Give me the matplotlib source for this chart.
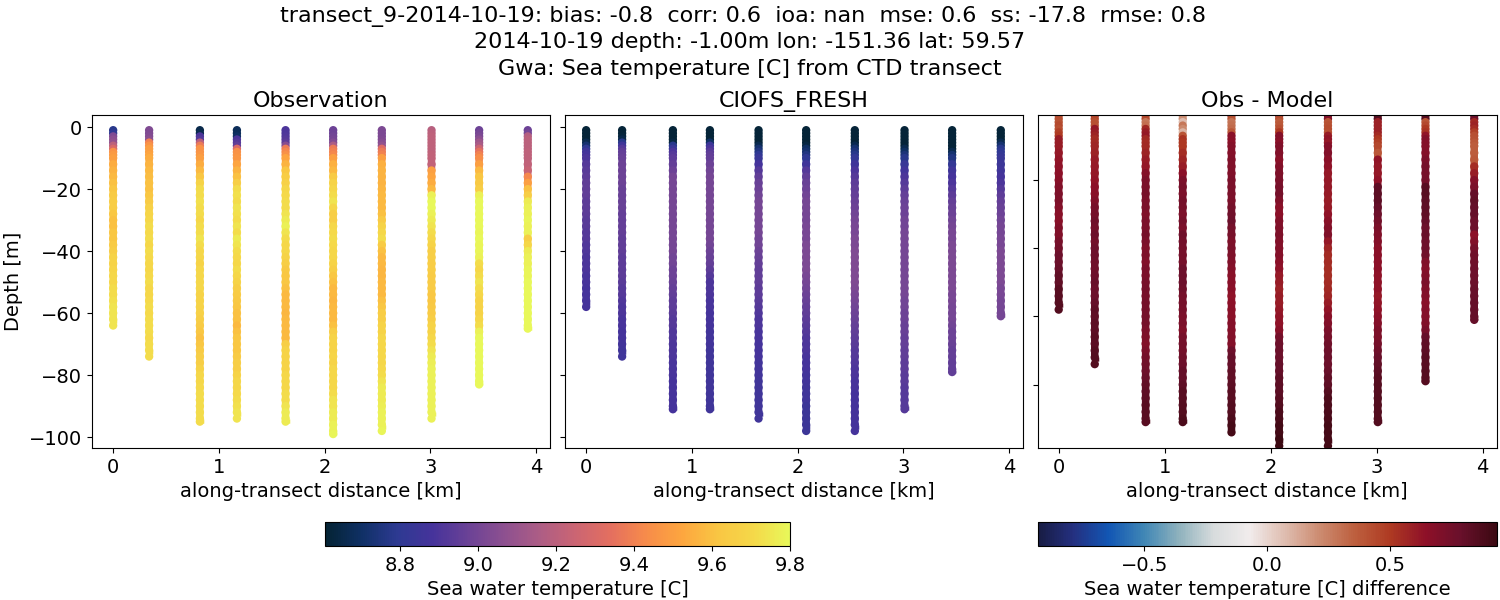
import matplotlib
matplotlib.use('Agg')
import matplotlib.pyplot as plt
from matplotlib.cm import ScalarMappable
from matplotlib.colors import LinearSegmentedColormap, Normalize
from matplotlib.path import Path

plt.rcParams['font.size'] = 14

TITLE_LINES = ['transect_9-2014-10-19: bias: -0.8  corr: 0.6  ioa: nan  mse: 0.6  ss: -17.8  rmse: 0.8',
               '2014-10-19 depth: -1.00m lon: -151.36 lat: 59.57',
               'Gwa: Sea temperature [C] from CTD transect']

# station positions along the transect [km]
distance = [0.0, 0.34, 0.82, 1.17, 1.63, 2.08, 2.54, 3.01, 3.46, 3.92]

# depth levels [m], every cast stops at its own bottom
levels = [1, 2, 3, 4, 5, 6, 7, 8, 9, 10,
          12, 14, 16, 18, 20, 22, 24, 26, 28, 30,
          32, 34, 36, 38, 40, 42, 44, 46, 48, 50,
          52, 54, 56, 58, 60, 62, 64, 66, 68, 70,
          72, 74, 76, 78, 80, 82, 84, 86, 88, 90,
          92, 94, 96, 98]
obs_bottom = [64, 74, 95, 94, 95, 99, 98, 94, 83, 65]
model_bottom = [58, 74, 91, 91, 94, 98, 98, 91, 79, 61]

obs_temp = [
    [8.78, 8.80, 9.03, 9.06, 9.08, 9.20, 9.30, 9.46, 9.48, 9.50,
     9.54, 9.56, 9.58, 9.60, 9.62, 9.64, 9.65, 9.65, 9.62, 9.60,
     9.60, 9.62, 9.62, 9.64, 9.66, 9.68, 9.68, 9.69, 9.70, 9.70,
     9.72, 9.72, 9.73, 9.74, 9.74, 9.74, 9.74],
    [9.03, 9.03, 9.04, 9.06, 9.40, 9.46, 9.50, 9.50, 9.52, 9.54,
     9.56, 9.58, 9.59, 9.60, 9.60, 9.62, 9.64, 9.67, 9.69, 9.70,
     9.72, 9.71, 9.72, 9.70, 9.72, 9.71, 9.70, 9.70, 9.71, 9.72,
     9.70, 9.70, 9.71, 9.72, 9.71, 9.72, 9.72, 9.72, 9.71, 9.72,
     9.72, 9.72],
    [8.65, 8.66, 8.90, 8.92, 9.20, 9.38, 9.46, 9.46, 9.47, 9.50,
     9.54, 9.58, 9.62, 9.68, 9.72, 9.72, 9.73, 9.72, 9.72, 9.70,
     9.72, 9.72, 9.74, 9.72, 9.70, 9.70, 9.68, 9.70, 9.70, 9.70,
     9.70, 9.68, 9.68, 9.68, 9.67, 9.66, 9.64, 9.62, 9.60, 9.62,
     9.64, 9.66, 9.66, 9.68, 9.70, 9.70, 9.71, 9.72, 9.72, 9.72,
     9.72, 9.72, 9.72],
    [8.68, 8.68, 8.70, 8.90, 8.92, 8.95, 9.30, 9.45, 9.46, 9.47,
     9.52, 9.56, 9.60, 9.66, 9.72, 9.73, 9.72, 9.74, 9.73, 9.72,
     9.74, 9.72, 9.76, 9.74, 9.72, 9.71, 9.70, 9.72, 9.70, 9.68,
     9.66, 9.64, 9.63, 9.62, 9.60, 9.60, 9.58, 9.60, 9.62, 9.62,
     9.62, 9.64, 9.66, 9.66, 9.68, 9.70, 9.70, 9.71, 9.72, 9.73,
     9.74, 9.74],
    [8.90, 8.90, 8.91, 8.92, 8.94, 9.05, 9.38, 9.42, 9.45, 9.52,
     9.56, 9.62, 9.65, 9.67, 9.70, 9.71, 9.72, 9.72, 9.74, 9.76,
     9.78, 9.74, 9.72, 9.70, 9.70, 9.68, 9.66, 9.63, 9.62, 9.62,
     9.60, 9.58, 9.58, 9.58, 9.57, 9.58, 9.58, 9.58, 9.58, 9.66,
     9.68, 9.68, 9.68, 9.68, 9.70, 9.70, 9.70, 9.72, 9.72, 9.74,
     9.76, 9.76, 9.76],
    [8.98, 8.98, 8.99, 9.00, 9.04, 9.15, 9.38, 9.40, 9.42, 9.50,
     9.55, 9.58, 9.64, 9.68, 9.70, 9.72, 9.74, 9.70, 9.66, 9.66,
     9.70, 9.71, 9.72, 9.71, 9.70, 9.70, 9.68, 9.66, 9.62, 9.60,
     9.58, 9.58, 9.57, 9.58, 9.58, 9.58, 9.60, 9.66, 9.68, 9.68,
     9.68, 9.69, 9.68, 9.70, 9.70, 9.70, 9.70, 9.72, 9.74, 9.74,
     9.76, 9.76, 9.78, 9.78, 9.79],
    [9.02, 9.02, 9.02, 9.03, 9.05, 9.08, 9.32, 9.38, 9.40, 9.50,
     9.55, 9.56, 9.56, 9.56, 9.57, 9.58, 9.58, 9.58, 9.60, 9.64,
     9.68, 9.70, 9.72, 9.64, 9.60, 9.58, 9.58, 9.57, 9.57, 9.58,
     9.58, 9.58, 9.60, 9.62, 9.65, 9.66, 9.68, 9.68, 9.70, 9.70,
     9.70, 9.70, 9.70, 9.71, 9.72, 9.74, 9.76, 9.76, 9.76, 9.77,
     9.78, 9.78, 9.78, 9.79],
    [9.19, 9.20, 9.21, 9.21, 9.21, 9.21, 9.21, 9.21, 9.22, 9.22,
     9.22, 9.50, 9.52, 9.54, 9.58, 9.78, 9.80, 9.80, 9.78, 9.76,
     9.74, 9.72, 9.70, 9.68, 9.66, 9.66, 9.65, 9.65, 9.64, 9.64,
     9.64, 9.62, 9.62, 9.63, 9.64, 9.66, 9.68, 9.68, 9.70, 9.72,
     9.74, 9.76, 9.77, 9.78, 9.78, 9.78, 9.78, 9.78, 9.78, 9.78,
     9.78, 9.78],
    [8.98, 9.00, 9.02, 9.06, 9.12, 9.15, 9.25, 9.35, 9.40, 9.44,
     9.50, 9.58, 9.62, 9.63, 9.66, 9.78, 9.80, 9.80, 9.80, 9.80,
     9.80, 9.79, 9.80, 9.79, 9.79, 9.78, 9.72, 9.70, 9.72, 9.74,
     9.72, 9.70, 9.68, 9.68, 9.68, 9.70, 9.72, 9.78, 9.80, 9.80,
     9.80, 9.80, 9.80, 9.80, 9.80, 9.80, 9.80],
    [8.98, 9.00, 9.18, 9.20, 9.20, 9.20, 9.20, 9.21, 9.21, 9.21,
     9.22, 9.24, 9.42, 9.50, 9.60, 9.66, 9.76, 9.78, 9.78, 9.79,
     9.78, 9.78, 9.66, 9.70, 9.76, 9.78, 9.78, 9.79, 9.79, 9.80,
     9.80, 9.80, 9.80, 9.80, 9.80, 9.80, 9.80, 9.80],
]

model_temp = [
    [8.62, 8.62, 8.62, 8.62, 8.66, 8.72, 8.80, 8.86, 8.88, 8.90,
     8.92, 8.93, 8.94, 8.95, 8.95, 8.95, 8.94, 8.94, 8.94, 8.93,
     8.93, 8.92, 8.92, 8.91, 8.91, 8.90, 8.90, 8.90, 8.89, 8.89,
     8.88, 8.88, 8.88, 8.88],
    [8.62, 8.62, 8.63, 8.65, 8.78, 8.86, 8.92, 8.95, 8.96, 8.97,
     8.98, 8.98, 8.98, 8.98, 8.97, 8.97, 8.97, 8.97, 8.96, 8.96,
     8.96, 8.96, 8.95, 8.95, 8.95, 8.94, 8.94, 8.94, 8.94, 8.93,
     8.92, 8.92, 8.91, 8.90, 8.90, 8.89, 8.89, 8.88, 8.88, 8.87,
     8.86, 8.86],
    [8.62, 8.62, 8.62, 8.62, 8.64, 8.78, 8.84, 8.90, 8.92, 8.94,
     8.96, 8.98, 9.00, 9.00, 9.00, 9.00, 9.00, 9.00, 9.00, 9.00,
     9.00, 9.00, 9.00, 9.00, 9.00, 8.99, 8.99, 8.98, 8.98, 8.97,
     8.96, 8.95, 8.94, 8.94, 8.93, 8.92, 8.92, 8.91, 8.91, 8.90,
     8.90, 8.90, 8.89, 8.89, 8.89, 8.88, 8.88, 8.88, 8.88, 8.88,
     8.88],
    [8.62, 8.62, 8.62, 8.62, 8.70, 8.85, 8.90, 8.93, 8.95, 8.96,
     8.98, 8.99, 9.00, 9.00, 9.00, 9.00, 9.00, 9.00, 9.00, 9.00,
     9.00, 9.00, 9.00, 8.99, 8.98, 8.97, 8.96, 8.94, 8.92, 8.90,
     8.90, 8.90, 8.89, 8.89, 8.88, 8.88, 8.88, 8.87, 8.87, 8.87,
     8.86, 8.86, 8.86, 8.86, 8.86, 8.86, 8.86, 8.86, 8.86, 8.86,
     8.86],
    [8.62, 8.62, 8.62, 8.62, 8.62, 8.66, 8.72, 8.76, 8.80, 8.84,
     8.88, 8.92, 8.95, 8.97, 8.98, 8.99, 9.00, 9.00, 9.00, 9.00,
     9.00, 9.00, 8.99, 8.99, 8.98, 8.97, 8.96, 8.95, 8.95, 8.95,
     8.94, 8.94, 8.93, 8.92, 8.91, 8.90, 8.90, 8.89, 8.89, 8.88,
     8.88, 8.88, 8.87, 8.87, 8.87, 8.86, 8.86, 8.86, 8.86, 8.86,
     8.86, 8.86],
    [8.62, 8.62, 8.62, 8.62, 8.62, 8.64, 8.70, 8.72, 8.76, 8.80,
     8.86, 8.92, 8.95, 8.97, 8.98, 8.99, 9.00, 9.00, 9.00, 9.00,
     9.01, 9.01, 9.01, 9.02, 9.02, 9.02, 9.02, 9.02, 9.01, 9.00,
     8.99, 8.98, 8.97, 8.96, 8.95, 8.94, 8.93, 8.92, 8.91, 8.90,
     8.90, 8.89, 8.88, 8.88, 8.87, 8.87, 8.86, 8.86, 8.86, 8.85,
     8.85, 8.85, 8.85, 8.85],
    [8.62, 8.62, 8.62, 8.62, 8.62, 8.66, 8.72, 8.75, 8.78, 8.82,
     8.86, 8.90, 8.92, 8.94, 8.95, 8.96, 8.97, 8.98, 8.99, 9.00,
     9.01, 9.01, 9.02, 9.02, 9.03, 9.03, 9.03, 9.03, 9.03, 9.03,
     9.02, 9.01, 9.00, 8.99, 8.98, 8.97, 8.96, 8.95, 8.94, 8.93,
     8.92, 8.92, 8.91, 8.90, 8.90, 8.89, 8.89, 8.88, 8.88, 8.88,
     8.88, 8.88, 8.88, 8.88],
    [8.62, 8.62, 8.62, 8.62, 8.62, 8.62, 8.66, 8.70, 8.74, 8.78,
     8.84, 8.87, 8.90, 8.92, 8.94, 8.96, 8.97, 8.98, 8.98, 8.99,
     8.99, 9.00, 9.00, 9.00, 9.00, 9.00, 9.00, 9.00, 9.00, 9.00,
     9.00, 9.00, 8.99, 8.99, 8.98, 8.98, 8.97, 8.97, 8.96, 8.96,
     8.95, 8.95, 8.94, 8.94, 8.93, 8.93, 8.92, 8.92, 8.92, 8.92,
     8.92],
    [8.62, 8.62, 8.62, 8.62, 8.62, 8.62, 8.62, 8.66, 8.72, 8.76,
     8.82, 8.86, 8.88, 8.90, 8.92, 8.94, 8.96, 8.97, 8.98, 8.99,
     9.00, 9.01, 9.01, 9.02, 9.02, 9.02, 9.02, 9.02, 9.02, 9.02,
     9.02, 9.01, 9.01, 9.00, 9.00, 9.00, 8.99, 8.98, 8.98, 8.97,
     8.96, 8.96, 8.95, 8.95, 8.95],
    [8.62, 8.62, 8.62, 8.62, 8.66, 8.72, 8.78, 8.80, 8.82, 8.84,
     8.85, 8.86, 8.88, 8.90, 8.92, 8.94, 8.96, 8.97, 8.98, 8.99,
     9.00, 9.00, 9.01, 9.01, 9.02, 9.02, 9.02, 9.02, 9.02, 9.02,
     9.01, 9.01, 9.00, 9.00, 9.00, 9.00],
]

# first two readings of the difference panel, they do not follow the two other panels
surface_diff = [[0.42, 0.42], [0.68, 0.45], [0.42, 0.44], [0.20, 0.20], [0.65, 0.40],
                [0.68, 0.42], [0.85, 0.68], [0.88, 0.85], [0.88, 0.85], [0.82, 0.78]]

# cmocean is not installed, these are the colours of the two colour bars
thermal_colors = ['#042333', '#0f3065', '#2d3a92', '#46339b', '#6b4296', '#8d5090',
                  '#ad5d85', '#cb6573', '#e46f5f', '#f78c4a', '#fda63f', '#f9c643',
                  '#f5d849', '#e8f85a']
balance_colors = ['#181c43', '#243080', '#1256b4', '#3f86b5', '#8fb2bd', '#d8dcdd',
                  '#f1ecec', '#dfbdb0', '#cc8b70', '#bd5f3e', '#ae3a22', '#8e1028',
                  '#69102b', '#3c0912']
thermal = LinearSegmentedColormap.from_list('thermal', thermal_colors)
balance = LinearSegmentedColormap.from_list('balance', balance_colors)

# close the notches between the round dots where the levels are 2 m apart,
# the short one sits above the bottom dot so the end of the cast stays round
gap_marker = Path([(-0.9, 0), (0.9, 0), (0.9, -1.6), (-0.9, -1.6), (-0.9, 0)])
short_gap_marker = Path([(-0.9, 0), (0.9, 0), (0.9, -1), (-0.9, -1), (-0.9, 0)])


def add_axes(fig, left, top, right, bottom):
    # pixel box to figure fraction
    return fig.add_axes([left / 1500, 1 - bottom / 600, (right - left) / 1500, (bottom - top) / 600])


def cast_depths(n_values, bottom):
    return [-d for d in levels[:n_values - 1]] + [-bottom]


def plot_casts(ax, casts, bottoms, cmap, norm):
    for x, values, bottom in zip(distance, casts, bottoms):
        depths = cast_depths(len(values), bottom)
        ax.scatter([x] * (len(values) - 11), depths[9:-2], c=values[9:-2], snap=False,
                   marker=gap_marker, s=92, cmap=cmap, norm=norm, linewidths=0)
        ax.scatter([x], depths[-2:-1], c=values[-2:-1], snap=False,
                   marker=short_gap_marker, s=36, cmap=cmap, norm=norm, linewidths=0)
        ax.scatter([x] * len(values), depths, c=values,
                   s=36, cmap=cmap, norm=norm, linewidths=0)
    ax.set_xlim(-0.2, 4.13)
    ax.set_xticks([0, 1, 2, 3, 4])
    ax.set_xlabel('along-transect distance [km]')


diff_temp = []
for obs, model, top in zip(obs_temp, model_temp, surface_diff):
    diff_temp.append(top + [o - m for o, m in zip(obs[2:], model[2:])])

fig = plt.figure(figsize=(15, 6), dpi=100)
temp_norm = Normalize(8.608, 9.8)
diff_norm = Normalize(-0.934, 0.934)

ax1 = add_axes(fig, 92, 115, 550, 448)
plot_casts(ax1, obs_temp, obs_bottom, thermal, temp_norm)
ax1.set_ylim(-103.5, 3.9)
ax1.set_yticks([0, -20, -40, -60, -80, -100])
ax1.set_ylabel('Depth [m]')
ax1.set_title('Observation', fontsize=16)

ax2 = add_axes(fig, 565, 115, 1023, 448)
plot_casts(ax2, model_temp, model_bottom, thermal, temp_norm)
ax2.set_ylim(-103.5, 3.9)
ax2.set_yticks([0, -20, -40, -60, -80, -100])
ax2.set_yticklabels([])
ax2.set_title('CIOFS_FRESH', fontsize=16)

ax3 = add_axes(fig, 1037.5, 115, 1496.5, 448)
plot_casts(ax3, diff_temp, model_bottom, balance, diff_norm)
ax3.set_ylim(-98.6, -0.9)
ax3.set_yticks([-20, -40, -60, -80])
ax3.set_yticklabels([])
ax3.set_title('Obs - Model', fontsize=16)

cax1 = add_axes(fig, 325, 522, 790, 546)
cb1 = fig.colorbar(ScalarMappable(norm=temp_norm, cmap=thermal), cax=cax1, orientation='horizontal')
cb1.set_ticks([8.8, 9.0, 9.2, 9.4, 9.6, 9.8])
cb1.set_label('Sea water temperature [C]')

cax2 = add_axes(fig, 1037.5, 522, 1496.5, 546)
cb2 = fig.colorbar(ScalarMappable(norm=diff_norm, cmap=balance), cax=cax2, orientation='horizontal')
cb2.set_ticks([-0.5, 0.0, 0.5])
cb2.set_label('Sea water temperature [C] difference')

# the first line sits a little left of the other two in the reference
for line, x_px, y_px in zip(TITLE_LINES, [742.5, 749.5, 749.5], [16.5, 42.5, 69]):
    fig.text(x_px / 1500, 1 - y_px / 600, line, fontsize=16, ha='center', va='center')

fig.savefig('out.png', dpi=100)
